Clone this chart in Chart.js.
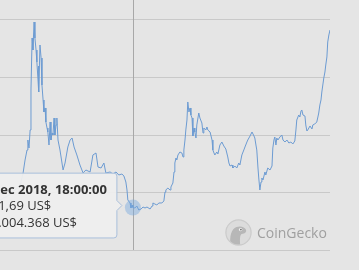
<!DOCTYPE html>
<html><head><meta charset="utf-8">
<script src="https://cdn.jsdelivr.net/npm/chart.js@4"></script>
<style>
html,body{margin:0;padding:0;width:359px;height:270px;overflow:hidden;background:#e5e5e5;}
#wrap{position:relative;width:359px;height:270px;overflow:hidden;background:#e5e5e5;}
canvas{position:absolute;left:-60px;top:-40px;}
#brand{position:absolute;left:225px;top:219px;height:27px;display:flex;align-items:center;font-family:'Open Sans',sans-serif;font-size:14px;color:#a0a0a0;}
#brand svg{margin-right:5px;display:block}
</style></head>
<body><div id="wrap"><canvas id="c" width="419" height="310"></canvas>
<div id="brand"><svg width="27" height="27" viewBox="0 0 27 27">
<defs><clipPath id="cc"><circle cx="13.5" cy="13.5" r="12"/></clipPath></defs>
<circle cx="13.5" cy="13.5" r="12.6" fill="#dcdcdc" stroke="#cbcbcb" stroke-width="1.2"/>
<path clip-path="url(#cc)" d="M5.5 26 C4.5 18 6 10 11.5 8 C15.5 6.6 19.8 7.8 21 10.8 C21.8 13.3 19.6 14.8 16.8 15 C15.2 15.6 14.6 18.5 15.2 26 Z" fill="#b7b7b7"/>
<circle cx="15.6" cy="10.6" r="1.7" fill="#f2f2f2"/><circle cx="15.9" cy="10.6" r="0.9" fill="#6f6f6f"/>
</svg><span>CoinGecko</span></div></div>
<script>
// days since 27 Aug 2017
const dayIndex = [0,28,53,71,82,89,96,99,103,107,110,114,117,121,124,128,131,135,137,138,142,146,149,153,156,160,163,167,170,174,178,181,185,188,192,195,199,202,206,213,224,231,241,249,256,263,273,284,295,305,320,330,341,348,359,369,376,391,401,412,422,433,440,447,451,454,462,465,469,472,479,486,493,501,508,515,522,533,540,543,550,557,564,575,582,586,589,596,604,607,614,618,621,625,628,632,639,646,650,653,657,660,664,667,671,675,678,682,685,689,692,696,699,703,706,710,717,721,724,731,735,738,746,753,756,760,763,770,774,781,788,795,802,809,813,817,824,827,834,841,848,852,859,866,870,877,880,888,895,902,905,909,912,916,919,923,927,930,934,941,944,951,959,966,969,973,976,980,983,987,994,1001,1005,1012,1019,1026,1033,1040,1047,1051,1054,1061,1065,1069,1072,1076,1083,1086,1090,1093,1101,1108,1111,1118,1125,1129,1132,1136,1140,1143,1147,1150,1154,1157,1161,1164,1168,1172];
const priceUsd = [4348,4696,5217,5565,6696,7826,8696,9565,8870,10435,13913,18435,17391,19826,18435,17391,16348,14783,16000,13739,17826,16696,14348,13043,12000,12348,11130,10609,10261,9130,11130,9565,10174,10000,11478,10000,10870,11478,9565,8696,6957,7565,8957,9565,9739,8957,8261,7391,6696,6957,6783,8261,8435,7217,7130,7565,6696,6783,6609,6783,6522,6609,6435,5913,5217,4348,4087,3652,3913,3691.69,3652,3826,3478,3565,3739,3652,3739,3565,3826,4087,4000,3913,4087,4087,4261,5043,5217,5391,5217,5478,5826,6783,7565,8000,7826,8261,8522,8435,8087,8696,9565,10435,11304,12870,12000,12348,11739,11478,9913,10609,10261,9739,10870,11478,11913,11478,11043,10174,10609,10435,10696,10435,10261,9565,8696,8435,8261,8522,8348,9130,9391,9043,8783,8087,7565,7304,7391,7130,7304,7130,7565,7391,8261,8696,8957,9391,9565,9913,10261,9913,9739,9130,8696,7217,6261,5217,5913,6261,6087,6783,6522,7130,6957,7304,8870,9565,9826,9130,9739,9565,9826,10000,9565,9391,9565,9304,9391,9217,9478,10435,11304,11739,11565,12087,12174,11739,11652,10870,10348,10435,10783,10522,10870,10957,11130,11565,11913,12609,13043,13739,14435,14957,15478,16087,16783,18087,18696,19130];
const yTicks = [0,5000,10000,15000,20000,25000];
const monthNames = ['Jan','Feb','Mar','Apr','May','Jun','Jul','Aug','Sep','Oct','Nov','Dec'];
const startUtc = Date.UTC(2017,7,27);
const activeDay = 472;
const tooltipTime = '18:00:00';
const activeVolume = 564004368;

function fmt(n, dec){
  const s = n.toFixed(dec); let parts = s.split('.');
  let i = parts[0].replace(/\B(?=(\d{3})+(?!\d))/g,'.');
  return parts[1] ? i + ',' + parts[1] : i;
}

Chart.defaults.font.family = "'Open Sans', sans-serif";
Chart.Tooltip.positioners.raised = function(elements, eventPosition){
  const p = Chart.Tooltip.positioners.average.call(this, elements, eventPosition);
  return p ? {x:p.x, y:p.y - 2} : p;
};
const points = dayIndex.map((d,i)=>({x:d,y:priceUsd[i]}));
const activeIndex = dayIndex.indexOf(activeDay);

const crosshair = {
  id:'crosshair',
  beforeDatasetsDraw(chart){
    const act = chart.getActiveElements();
    if(!act.length) return;
    const x = Math.round(act[0].element.x) + 0.5;
    const {top,bottom} = chart.chartArea;
    const ctx = chart.ctx;
    ctx.save(); ctx.strokeStyle = '#a8a8a8'; ctx.lineWidth = 1;
    ctx.beginPath(); ctx.moveTo(x, top); ctx.lineTo(x, bottom); ctx.stroke(); ctx.restore();
  }
};

const chart = new Chart(document.getElementById('c'), {
  type:'line',
  data:{datasets:[{
    data: points,
    borderColor:'rgb(108,155,210)', borderWidth:1, tension:0, fill:false,
    pointRadius:0, pointHitRadius:0,
    pointHoverRadius:8, pointHoverBackgroundColor:'rgba(120,168,222,0.45)', pointHoverBorderWidth:0
  }]},
  options:{
    responsive:false, animation:false, devicePixelRatio:1, events:[],
    layout:{padding:{left:60,right:29,top:2.5,bottom:20}},
    scales:{
      x:{type:'linear', display:false, min:dayIndex[0], max:dayIndex[dayIndex.length-1]},
      y:{min:yTicks[0], max:yTicks[yTicks.length-1],
         afterBuildTicks(scale){ scale.ticks = yTicks.map(v=>({value:v})); },
         ticks:{display:false},
         grid:{color:'#c9c9c9', drawTicks:false, lineWidth:1},
         border:{display:false}}
    },
    plugins:{
      legend:{display:false},
      tooltip:{
        position:'raised',
        xAlign:'right', yAlign:'center',
        backgroundColor:'rgba(238,238,238,0.95)', borderColor:'#a9bfdb', borderWidth:1,
        cornerRadius:3, caretSize:5, caretPadding:11,
        padding:{top:9,bottom:7,left:10,right:10},
        titleColor:'#333', bodyColor:'#333',
        titleFont:{size:13, weight:'bold'}, bodyFont:{size:13},
        titleMarginBottom:1, bodySpacing:1, displayColors:false,
        callbacks:{
          title(items){
            const d = new Date(startUtc + items[0].parsed.x*86400000);
            return d.getUTCDate() + ' ' + monthNames[d.getUTCMonth()] + ' ' + d.getUTCFullYear() + ', ' + tooltipTime;
          },
          label(item){
            return [fmt(item.parsed.y,2) + ' US$', ' ' + fmt(activeVolume,0) + ' US$'];
          }
        }
      }
    }
  },
  plugins:[crosshair]
});
chart.setActiveElements([{datasetIndex:0,index:activeIndex}]);
chart.tooltip.setActiveElements([{datasetIndex:0,index:activeIndex}], {x:0,y:0});
chart.update();
</script>
</body></html>
